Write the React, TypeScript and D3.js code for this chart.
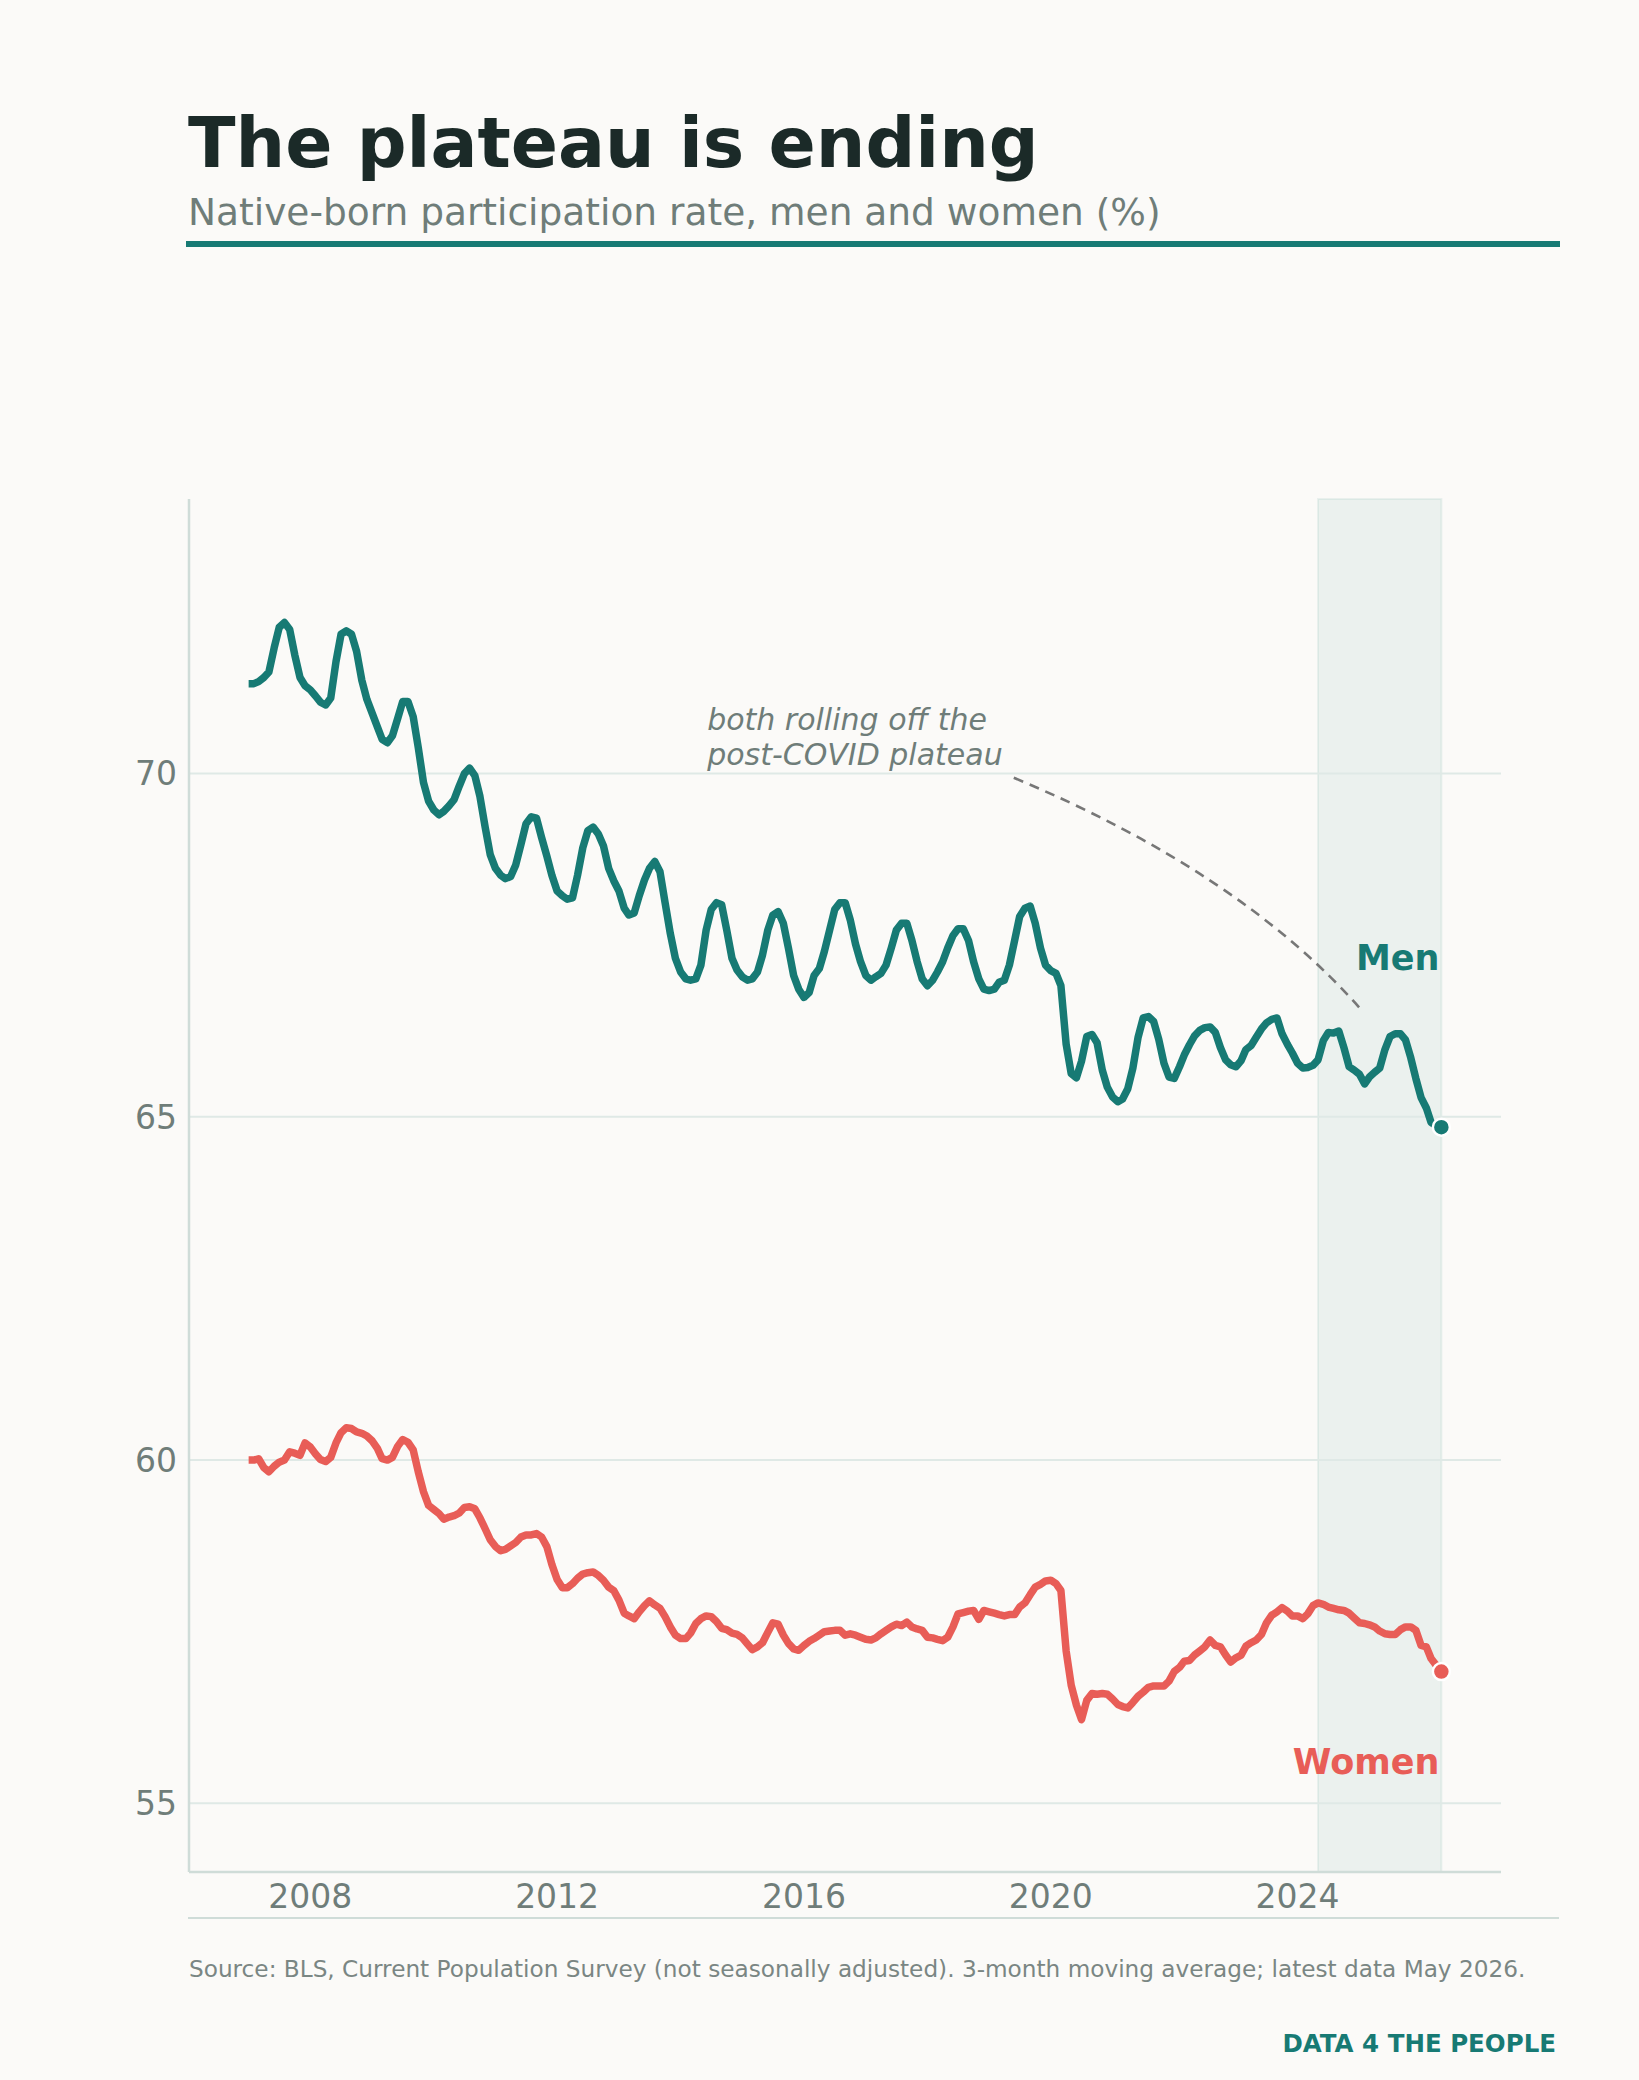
import * as d3 from 'd3'
import React from 'react'

// monthly 3-month moving averages, Jan 2007 .. May 2026
const START_YEAR = 2007
const menRate = [
  71.31, 71.31, 71.34, 71.4, 71.48, 71.83, 72.13, 72.2, 72.1, 71.73, 71.4, 71.28,
  71.22, 71.13, 71.04, 71.0, 71.1, 71.63, 72.03, 72.08, 72.03, 71.78, 71.36, 71.08,
  70.88, 70.68, 70.5, 70.45, 70.55, 70.8, 71.05, 71.05, 70.83, 70.38, 69.87, 69.6,
  69.47, 69.4, 69.45, 69.53, 69.62, 69.82, 70.0, 70.08, 69.97, 69.67, 69.22, 68.82,
  68.62, 68.52, 68.47, 68.5, 68.67, 68.97, 69.27, 69.37, 69.35, 69.07, 68.8, 68.52,
  68.29, 68.22, 68.17, 68.19, 68.52, 68.92, 69.17, 69.22, 69.12, 68.95, 68.62, 68.44,
  68.29, 68.04, 67.94, 67.97, 68.22, 68.45, 68.62, 68.72, 68.57, 68.12, 67.67, 67.31,
  67.11, 67.01, 66.99, 67.01, 67.21, 67.72, 68.02, 68.12, 68.09, 67.72, 67.31, 67.14,
  67.04, 66.99, 67.01, 67.11, 67.36, 67.72, 67.94, 67.99, 67.82, 67.46, 67.06, 66.86,
  66.74, 66.81, 67.06, 67.16, 67.41, 67.72, 68.02, 68.12, 68.12, 67.87, 67.52, 67.26,
  67.06, 66.99, 67.04, 67.09, 67.21, 67.46, 67.72, 67.82, 67.82, 67.57, 67.26, 67.01,
  66.91, 66.99, 67.11, 67.26, 67.46, 67.64, 67.74, 67.74, 67.57, 67.26, 67.01, 66.86,
  66.84, 66.86, 66.96, 66.99, 67.21, 67.57, 67.92, 68.04, 68.07, 67.82, 67.46, 67.21,
  67.13, 67.09, 66.91, 66.06, 65.63, 65.57, 65.81, 66.17, 66.2, 66.08, 65.68, 65.43,
  65.29, 65.22, 65.26, 65.41, 65.71, 66.16, 66.44, 66.46, 66.39, 66.13, 65.78, 65.58,
  65.56, 65.73, 65.9, 66.05, 66.18, 66.26, 66.3, 66.31, 66.23, 66.01, 65.83, 65.76,
  65.73, 65.82, 65.98, 66.04, 66.16, 66.28, 66.37, 66.42, 66.44, 66.21, 66.06, 65.93,
  65.78, 65.71, 65.72, 65.75, 65.83, 66.11, 66.23, 66.22, 66.25, 66.01, 65.73, 65.68,
  65.62, 65.48, 65.58, 65.65, 65.71, 65.98, 66.17, 66.21, 66.21, 66.12, 65.86, 65.56,
  65.28, 65.13, 64.92, 64.87, 64.85,
]
const womenRate = [
  60.0, 60.0, 60.02, 59.89, 59.83, 59.91, 59.97, 60.0, 60.12, 60.1, 60.07, 60.25,
  60.19, 60.09, 60.01, 59.98, 60.04, 60.25, 60.4, 60.47, 60.46, 60.41, 60.39, 60.35,
  60.28, 60.17, 60.02, 60.0, 60.04, 60.2, 60.3, 60.26, 60.15, 59.83, 59.54, 59.34,
  59.28, 59.22, 59.14, 59.17, 59.19, 59.23, 59.31, 59.32, 59.29, 59.16, 59.0, 58.84,
  58.74, 58.68, 58.7, 58.75, 58.8, 58.88, 58.91, 58.91, 58.93, 58.88, 58.74, 58.48,
  58.26, 58.14, 58.14, 58.2, 58.28, 58.34, 58.36, 58.37, 58.32, 58.25, 58.15, 58.1,
  57.96, 57.77, 57.73, 57.69, 57.79, 57.88, 57.95, 57.89, 57.84, 57.72, 57.57, 57.45,
  57.4, 57.4, 57.48, 57.62, 57.69, 57.73, 57.72, 57.65, 57.55, 57.53, 57.48, 57.46,
  57.41, 57.32, 57.24, 57.28, 57.34, 57.49, 57.63, 57.61, 57.45, 57.33, 57.25, 57.23,
  57.3, 57.36, 57.4, 57.45, 57.5, 57.51, 57.52, 57.52, 57.45, 57.47, 57.45, 57.42,
  57.39, 57.38, 57.41, 57.47, 57.52, 57.57, 57.61, 57.59, 57.64, 57.57, 57.54, 57.52,
  57.42, 57.41, 57.39, 57.37, 57.42, 57.57, 57.76, 57.78, 57.8, 57.81, 57.68, 57.81,
  57.79, 57.77, 57.75, 57.73, 57.75, 57.75, 57.86, 57.92, 58.04, 58.15, 58.19, 58.24,
  58.25, 58.2, 58.1, 57.22, 56.72, 56.43, 56.22, 56.5, 56.6, 56.59, 56.6, 56.59,
  56.52, 56.44, 56.41, 56.39, 56.47, 56.56, 56.62, 56.69, 56.71, 56.71, 56.71, 56.78,
  56.92, 56.98, 57.07, 57.08, 57.16, 57.22, 57.28, 57.38, 57.3, 57.28, 57.16, 57.06,
  57.12, 57.16, 57.29, 57.34, 57.38, 57.46, 57.63, 57.74, 57.79, 57.85, 57.8, 57.73,
  57.73, 57.69, 57.76, 57.88, 57.92, 57.9, 57.86, 57.84, 57.82, 57.81, 57.77, 57.7,
  57.63, 57.62, 57.6, 57.57, 57.51, 57.47, 57.46, 57.46, 57.53, 57.57, 57.57, 57.52,
  57.3, 57.28, 57.11, 57.01, 56.92,
]

const yTicks = [55, 60, 65, 70]
const yDomain = [54, 74]
const xTickEvery = 4
// shaded window: last two years of data
const shadeStart = new Date(Date.UTC(2024, 4, 1))

const title = 'The plateau is ending'
const subtitle = 'Native-born participation rate, men and women (%)'
const source = 'Source: BLS, Current Population Survey (not seasonally adjusted). 3-month moving average; latest data May 2026.'
const brand = 'DATA 4 THE PEOPLE'
const noteLines = ['both rolling off the', 'post-COVID plateau']

const W = 1639
const H = 2080
const margin = { top: 499, right: W - 1501, bottom: H - 1872, left: 189 }

const BG = '#fbfaf8'
const TEAL = '#177a74'
const CORAL = '#e85d57'
const GREY = '#6f7d79'
const FONT = '"DejaVu Sans", sans-serif'

type Pt = { date: Date; value: number }
const toSeries = (vals: number[]): Pt[] =>
  vals.map((v, i) => ({ date: new Date(Date.UTC(START_YEAR, i, 1)), value: v }))

const men = toSeries(menRate)
const women = toSeries(womenRate)

const App = () => {
  const [d0, d1] = d3.extent(men, (d) => d.date) as [Date, Date]
  const pad = (d1.getTime() - d0.getTime()) * 0.05
  const x = d3
    .scaleUtc()
    .domain([new Date(d0.getTime() - pad), new Date(d1.getTime() + pad)])
    .range([margin.left, W - margin.right])
  const y = d3.scaleLinear().domain(yDomain).range([H - margin.bottom, margin.top])

  const line = d3
    .line<Pt>()
    .x((d) => x(d.date))
    .y((d) => y(d.value))

  const xTicks = x.ticks(d3.utcYear.every(xTickEvery) as d3.TimeInterval)
  const lastM = men[men.length - 1]
  const lastW = women[women.length - 1]

  // dashed annotation curve, in data space
  const yr = (f: number) => new Date(Date.UTC(Math.floor(f), 0, 1) + (f % 1) * 365.25 * 864e5)
  const curve = d3.path()
  curve.moveTo(x(yr(2019.4)), y(69.94))
  curve.quadraticCurveTo(x(yr(2023.07)), y(68.56), x(yr(2025.02)), y(66.57))

  return (
    <svg width={W} height={H} style={{ position: 'absolute', left: 0, top: 0, background: BG }} fontFamily={FONT}>
      <rect width={W} height={H} fill={BG} />

      <text x={188} y={167} fontSize={69.7} fontWeight="bold" fill="#1b2a28">
        {title}
      </text>
      <text x={188} y={225} fontSize={37.5} fill={GREY}>
        {subtitle}
      </text>
      <line x1={186} x2={1560} y1={244} y2={244} stroke={TEAL} strokeWidth={6} />

      {/* shaded recent window */}
      <rect
        x={x(shadeStart)}
        y={margin.top}
        width={x(lastM.date) - x(shadeStart)}
        height={H - margin.bottom - margin.top}
        fill={TEAL}
        fillOpacity={0.07}
        stroke={TEAL}
        strokeOpacity={0.08}
        strokeWidth={2}
      />

      {yTicks.map((t) => (
        <g key={t}>
          <line x1={margin.left} x2={W - margin.right} y1={y(t)} y2={y(t)} stroke="#dfe9e6" strokeWidth={2} />
          <text x={177} y={y(t)} dy="0.36em" textAnchor="end" fontSize={33} fill={GREY}>
            {t}
          </text>
        </g>
      ))}

      <line x1={margin.left} x2={margin.left} y1={margin.top} y2={H - margin.bottom} stroke="#cfdcd8" strokeWidth={2.5} />
      <line x1={margin.left} x2={W - margin.right} y1={H - margin.bottom} y2={H - margin.bottom} stroke="#cfdcd8" strokeWidth={2.5} />

      {xTicks.map((t) => (
        <text key={t.getTime()} x={x(t)} y={1908} textAnchor="middle" fontSize={33} fill={GREY}>
          {t.getUTCFullYear()}
        </text>
      ))}

      <path d={line(men) ?? ''} fill="none" stroke={TEAL} strokeWidth={7.5} strokeLinejoin="round" />
      <path d={line(women) ?? ''} fill="none" stroke={CORAL} strokeWidth={7.5} strokeLinejoin="round" />

      <circle cx={x(lastM.date)} cy={y(lastM.value)} r={8.5} fill={TEAL} stroke="#fff" strokeWidth={2.5} />
      <circle cx={x(lastW.date)} cy={y(lastW.value)} r={8.5} fill={CORAL} stroke="#fff" strokeWidth={2.5} />

      <text x={x(lastM.date) - 2} y={y(67.14)} textAnchor="end" fontSize={35} fontWeight="bold" fill={TEAL}>
        Men
      </text>
      <text x={x(lastW.date) - 2} y={y(55.43)} textAnchor="end" fontSize={35} fontWeight="bold" fill={CORAL}>
        Women
      </text>

      <path d={curve.toString()} fill="none" stroke="#777" strokeWidth={2.6} strokeDasharray="10 7" />
      <text x={x(yr(2014.43))} y={y(70.63)} fontSize={30} fontStyle="italic" fill={GREY}>
        {noteLines.map((l, i) => (
          <tspan key={l} x={x(yr(2014.43))} dy={i === 0 ? 0 : 35}>
            {l}
          </tspan>
        ))}
      </text>

      <line x1={188} x2={1559} y1={1918} y2={1918} stroke="#cfdcd8" strokeWidth={2} />
      <text x={189} y={1977} fontSize={23.2} fill="#7a8683">
        {source}
      </text>
      <text x={1556} y={2052} textAnchor="end" fontSize={24.5} fontWeight="bold" fill={TEAL}>
        {brand}
      </text>
    </svg>
  )
}

export default App
